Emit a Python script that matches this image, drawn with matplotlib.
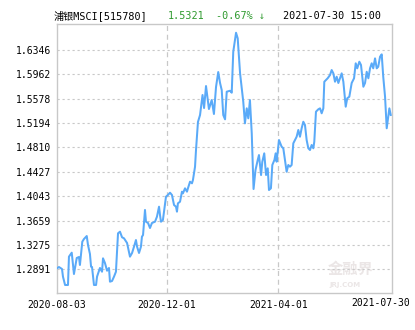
import matplotlib
matplotlib.use("Agg")
import matplotlib.pyplot as plt
from matplotlib.ticker import FixedLocator

# trading-day index (0 = 2020-08-03) and fund NAV
day = [0, 1.4, 3.6, 4.3, 5.8, 7.9, 8.6, 10.6, 12.2, 14.2, 15.8, 16.5, 18.2, 19.4,
       21.4, 22.3, 23.7, 24.5, 25.2, 26.6, 28.1, 28.8, 30.9, 32.4, 33.1, 34.5,
       36.0, 37.4, 38.1, 39.6, 41.0, 42.4, 43.9, 45.3, 46.8, 48.2, 50.4, 52.5,
       54.0, 55.4, 56.8, 57.6, 59.0, 60.4, 61.1, 61.9, 62.6, 63.3, 64.0, 65.5,
       66.9, 68.3, 70.5, 71.9, 73.4, 74.1, 74.8, 76.2, 77.0, 78.4, 79.8, 81.3,
       82.7, 84.2, 85.6, 86.3, 87.0, 88.5, 89.9, 90.6, 92.1, 93.5, 94.2, 95.7,
       97.1, 97.8, 99.3, 100.0, 101.4, 102.9, 104.7, 105.8, 107.2, 109.3, 111.3,
       112.9, 114.4, 116.0, 117.3, 118.5, 119.6, 120.9, 122.1, 124.5, 125.7,
       126.8, 128.8, 130.0, 131.7, 134.0, 135.2, 136.5, 137.6, 138.8, 140.1,
       141.4, 142.8, 144.4, 145.3, 146.8, 147.7, 149.1, 150.4, 151.6, 152.5,
       153.9, 154.9, 156.4, 157.3, 158.0, 159.7, 161.6, 162.8, 164.0, 165.2,
       166.4, 167.6, 168.8, 170.0, 171.2, 172.4, 173.6, 174.8, 176.0, 177.2,
       178.4, 179.6, 180.8, 182.0, 183.2, 184.4, 185.1, 186.3, 188.0, 189.2,
       190.4, 191.6, 192.3, 194.7, 196.4, 197.6, 198.8, 200.0, 201.2, 202.4,
       203.6, 204.8, 206.0, 207.7, 208.8, 210.3, 212.0, 213.7, 214.9, 216.0,
       217.5, 218.7, 220.4, 221.6, 222.8, 224.0, 225.2, 226.4, 227.5, 228.8,
       230.0, 231.1, 232.4, 233.6, 234.7, 236.0, 237.2, 238.3, 239.1, 240.1]
nav = [1.2907, 1.2927, 1.2896, 1.2775, 1.2644, 1.2644, 1.3090, 1.3153, 1.2817,
       1.3069, 1.3085, 1.2959, 1.3326, 1.3368, 1.3415, 1.3274, 1.3132, 1.2932,
       1.2927, 1.2644, 1.2644, 1.2775, 1.2912, 1.2853, 1.3064, 1.2990, 1.2869,
       1.2912, 1.2696, 1.2707, 1.2775, 1.2853, 1.3458, 1.3483, 1.3395, 1.3379,
       1.3305, 1.3090, 1.3148, 1.3247, 1.3352, 1.3247, 1.3148, 1.3247, 1.3404,
       1.3431, 1.3620, 1.3825, 1.3640, 1.3620, 1.3541, 1.3620, 1.3640, 1.3719,
       1.3877, 1.3746, 1.3640, 1.3667, 1.3798, 1.4034, 1.4061, 1.4097, 1.4061,
       1.3903, 1.3877, 1.3798, 1.3930, 1.3955, 1.4113, 1.4087, 1.4166, 1.4113,
       1.4166, 1.4270, 1.4245, 1.4297, 1.4506, 1.4769, 1.5210, 1.5320, 1.5635,
       1.5430, 1.5776, 1.5414, 1.5556, 1.5336, 1.5761, 1.5997, 1.5824, 1.5713,
       1.5320, 1.5252, 1.5687, 1.5702, 1.5671, 1.6316, 1.6615, 1.6527, 1.5976,
       1.5529, 1.5189, 1.5425, 1.5268, 1.5556, 1.5032, 1.4155, 1.4454, 1.4612,
       1.4690, 1.4375, 1.4585, 1.4717, 1.4375, 1.4481, 1.4139, 1.4166, 1.4533,
       1.4612, 1.4717, 1.4585, 1.4926, 1.4821, 1.4796, 1.4612, 1.4427, 1.4533,
       1.4506, 1.4533, 1.4874, 1.4926, 1.4978, 1.5084, 1.4978, 1.5111, 1.5214,
       1.5162, 1.4926, 1.4796, 1.4769, 1.4848, 1.4796, 1.4900, 1.5372, 1.5410,
       1.5425, 1.5347, 1.5425, 1.5844, 1.5898, 1.5949, 1.6028, 1.5976, 1.5844,
       1.5923, 1.5824, 1.5898, 1.5976, 1.5844, 1.5451, 1.5583, 1.5608, 1.5824,
       1.5898, 1.6134, 1.6055, 1.6159, 1.6107, 1.5765, 1.5824, 1.6001, 1.5898,
       1.6055, 1.6134, 1.6055, 1.6212, 1.6055, 1.6080, 1.6238, 1.6275, 1.5923,
       1.5608, 1.5111, 1.5293, 1.5425, 1.5321]

y_ticks = [1.2891, 1.3275, 1.3659, 1.4043, 1.4427, 1.4810, 1.5194, 1.5578,
           1.5962, 1.6346]
x_ticks = [0, 79.1, 159.2, 241]
x_labels = ['2020-08-03', '2020-12-01', '2021-04-01', '2021-07-30']

title_name = '浦银MSCI[515780]'
last_price = '1.5321'
last_change = '-0.67% ↓'
last_time = '2021-07-30 15:00'

mono = ['DejaVu Sans Mono', 'Noto Sans CJK SC']
green = '#2f9a2f'

fig = plt.figure(figsize=(4.15, 3.3), dpi=100)
ax = fig.add_axes([57 / 415, 1 - 293 / 330, 335 / 415, (293 - 24.3) / 330])

ax.plot(day, nav, color='#5aaaf8', lw=1.45, solid_joinstyle='round', zorder=3)

ax.set_xlim(0, 241)
ax.set_ylim(1.2518, 1.6748)

ax.yaxis.set_major_locator(FixedLocator(y_ticks))
ax.set_yticklabels([f'{v:.4f}' for v in y_ticks], family=mono, fontsize=7)
ax.xaxis.set_major_locator(FixedLocator(x_ticks))
ax.set_xticklabels(x_labels[:3] + [''], family=mono, fontsize=7)
ax.tick_params(length=0, pad=4)
ax.tick_params(axis='x', pad=5)

# last date label sits left of the right edge so it stays in the image
ax.annotate(x_labels[3], xy=(1, 0), xycoords='axes fraction', xytext=(-11, -5),
            textcoords='offset pixels', ha='center', va='top', family=mono,
            fontsize=7)

ax.grid(axis='y', color='#c8c8c8', lw=0.8, ls=(0, (2, 2.5)))
for xv in x_ticks[1:3]:
    ax.axvline(xv, color='#c8c8c8', lw=0.9, ls=(0, (4, 3)), zorder=1)

for s in ax.spines.values():
    s.set_color('#c8c8c8')
    s.set_linewidth(1)

# header line
ty = 1 - 16 / 330
fig.text(54 / 415, ty, title_name, family=mono, fontsize=7.3, va='center')
fig.text(168 / 415, ty, last_price, family=mono, fontsize=7.3, va='center', color=green)
fig.text(216 / 415, ty, last_change, family=mono, fontsize=7.3, va='center', color=green)
fig.text(283 / 415, ty, last_time, family=mono, fontsize=7.3, va='center')

# faint watermark
ax.text(0.875, 0.09, '金融界', transform=ax.transAxes, family='Noto Sans CJK SC',
        fontsize=11, weight='bold', color='#ebe6e6', ha='center', va='center', zorder=0)
ax.text(0.86, 0.03, 'JRJ.COM', transform=ax.transAxes, family='DejaVu Sans',
        fontsize=5, weight='bold', color='#ebe6e6', ha='center', va='center', zorder=0)

fig.savefig('out.png', dpi=100)
